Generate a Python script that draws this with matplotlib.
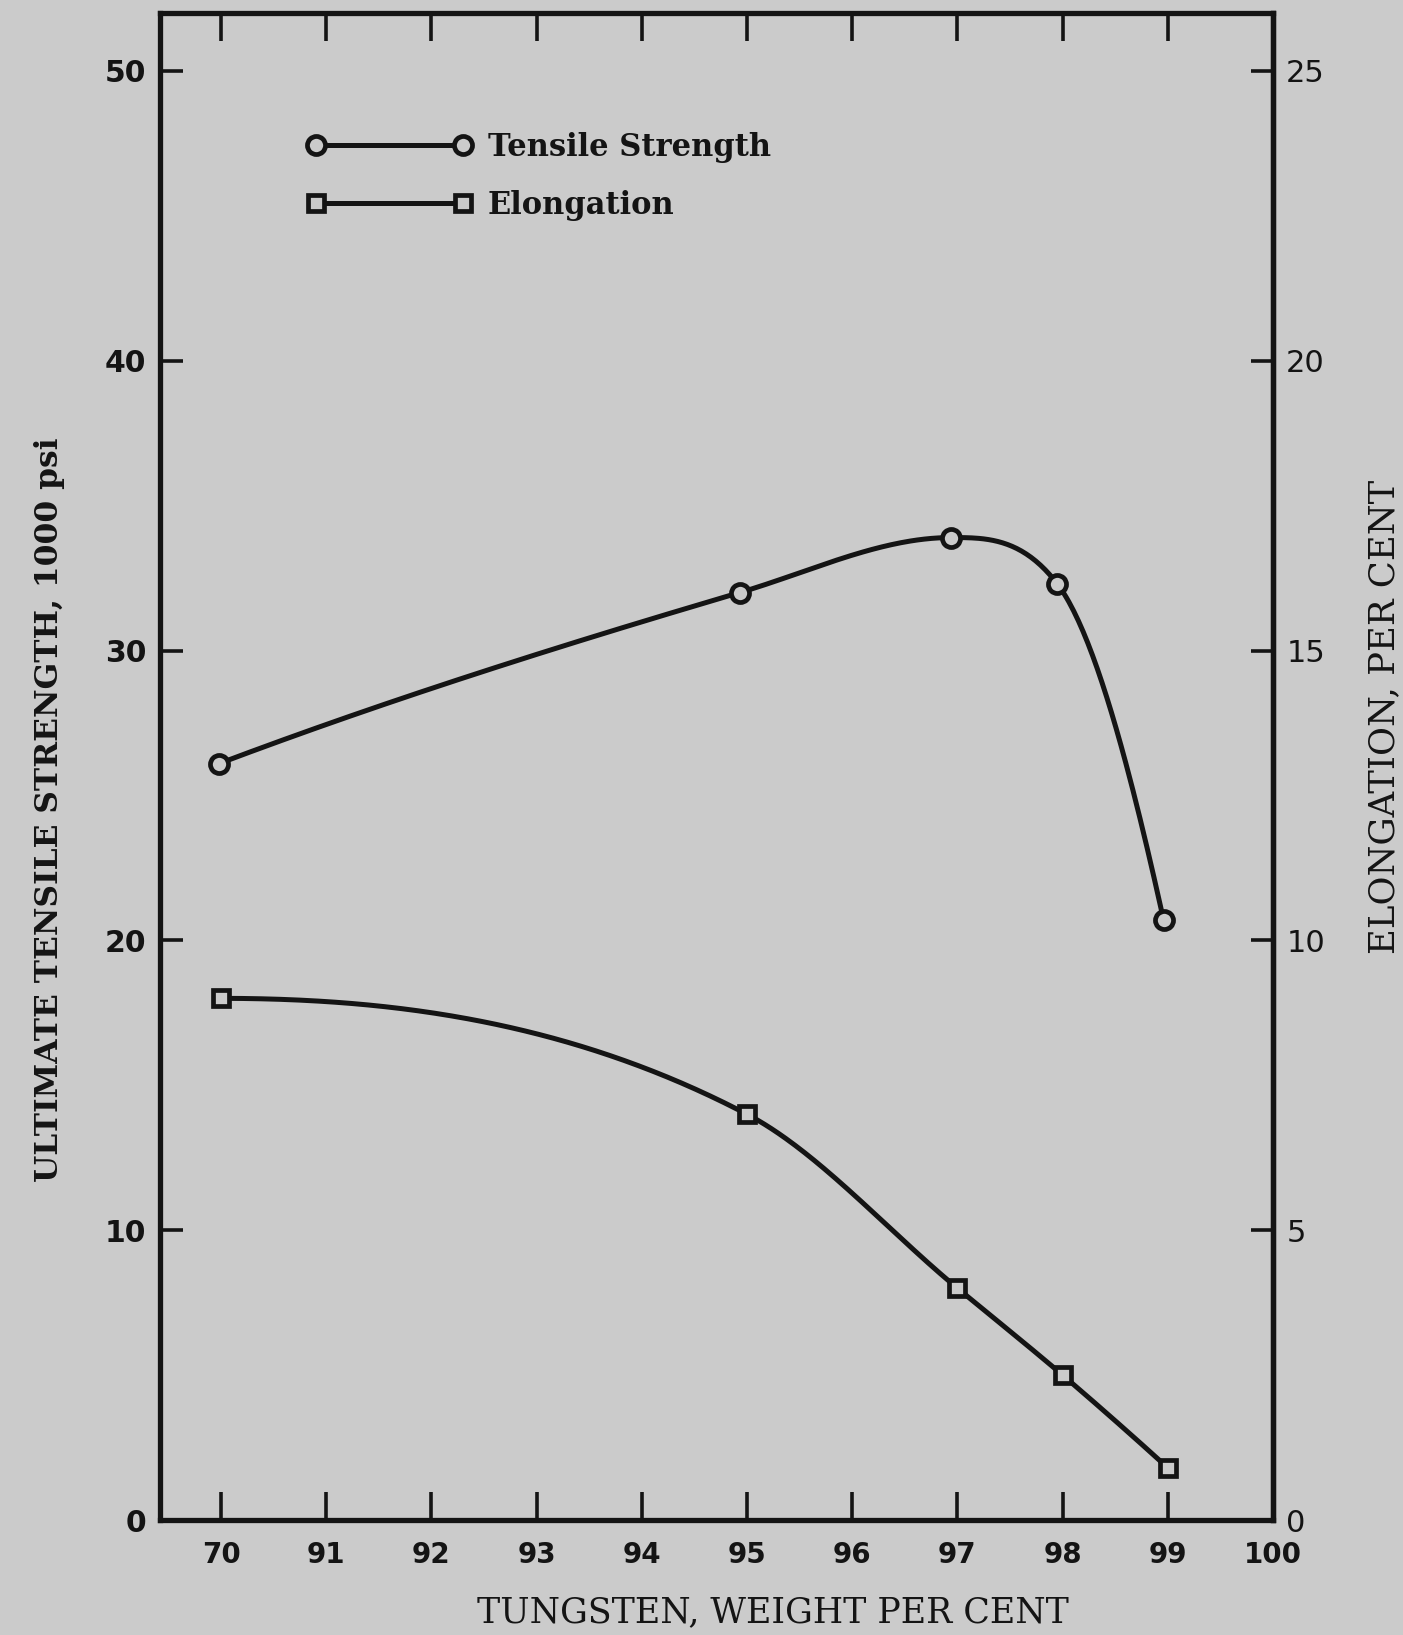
import numpy as np
import matplotlib
matplotlib.use('Agg')
import matplotlib.pyplot as plt
from matplotlib.lines import Line2D

# tungsten axis: evenly spaced positions, one label each
tungsten_labels = ['70', '91', '92', '93', '94', '95', '96', '97', '98', '99', '100']

# ultimate tensile strength, 1000 psi (left axis)
# x is the position on the tungsten axis
tensile_x = [-0.02, 4.93, 6.94, 7.95, 8.96]
tensile_y = [26.1, 32.0, 33.9, 32.3, 20.7]

# elongation, per cent (right axis)
elong_x = [0.0, 5.0, 7.0, 8.0, 9.0]
elong_y = [9.0, 7.0, 4.0, 2.5, 0.9]

left_ticks = [0, 10, 20, 30, 40, 50]
right_ticks = [0, 5, 10, 15, 20, 25]

paper = '#cbcbcb'
ink = '#141414'


def smooth(x, y, n=400):
    """Monotone cubic (Fritsch-Carlson) curve through the points, the way
    the curves were drawn by hand with a french curve."""
    x = np.asarray(x, float)
    y = np.asarray(y, float)
    h = np.diff(x)
    d = np.diff(y) / h
    m = np.zeros_like(y)
    m[1:-1] = (d[:-1] + d[1:]) / 2
    m[1:-1][d[:-1] * d[1:] <= 0] = 0
    m[0] = ((2 * h[0] + h[1]) * d[0] - h[0] * d[1]) / (h[0] + h[1])
    if np.sign(m[0]) != np.sign(d[0]):
        m[0] = 0
    m[-1] = ((2 * h[-1] + h[-2]) * d[-1] - h[-1] * d[-2]) / (h[-1] + h[-2])
    if np.sign(m[-1]) != np.sign(d[-1]):
        m[-1] = 0
    for k in range(len(d)):
        if d[k] == 0:
            m[k] = m[k + 1] = 0
            continue
        a, b = m[k] / d[k], m[k + 1] / d[k]
        s = a * a + b * b
        if s > 9:
            tau = 3 / np.sqrt(s)
            m[k] = tau * a * d[k]
            m[k + 1] = tau * b * d[k]
    xs = np.linspace(x[0], x[-1], n)
    i = np.clip(np.searchsorted(x, xs) - 1, 0, len(h) - 1)
    t = (xs - x[i]) / h[i]
    h00 = 2 * t**3 - 3 * t**2 + 1
    h10 = t**3 - 2 * t**2 + t
    h01 = -2 * t**3 + 3 * t**2
    h11 = t**3 - t**2
    ys = h00 * y[i] + h10 * h[i] * m[i] + h01 * y[i + 1] + h11 * h[i] * m[i + 1]
    return xs, ys


W, H = 1403, 1635
fig = plt.figure(figsize=(W / 100, H / 100), dpi=100, facecolor=paper)
ax = fig.add_axes([160 / W, 115 / H, 1113 / W, 1507 / H])
ax.set_facecolor(paper)
ax2 = ax.twinx()

lw = 3.6
mk = dict(mfc=paper, mec=ink, mew=3.4, linestyle='none', zorder=5)

xs, ys = smooth(tensile_x, tensile_y)
ax.plot(xs, ys, color=ink, lw=lw, solid_capstyle='round', zorder=4)
ax.plot(tensile_x, tensile_y, marker='o', ms=13, **mk)

xs, ys = smooth(elong_x, elong_y)
ax2.plot(xs, ys, color=ink, lw=lw, solid_capstyle='round', zorder=4)
ax2.plot(elong_x, elong_y, marker='s', ms=11.5, **mk)

ax.set_xlim(-0.58, 10)
ax.set_ylim(0, 52)
ax2.set_ylim(0, 26)

ax.set_xticks(range(len(tungsten_labels)), tungsten_labels,
              fontweight='bold', family='DejaVu Sans')
ax.set_yticks(left_ticks, [str(v) for v in left_ticks],
              fontweight='bold', family='DejaVu Sans')
ax2.set_yticks(right_ticks, [str(v) for v in right_ticks], family='DejaVu Sans')

ax.tick_params(axis='x', direction='in', length=20, width=2.6, top=True,
               labelsize=20, pad=15, color=ink, labelcolor=ink)
ax.tick_params(axis='y', direction='in', length=16.5, width=2.6,
               labelsize=21.5, pad=10, color=ink, labelcolor=ink)
ax2.tick_params(axis='y', direction='in', length=16, width=2.6,
                labelsize=22, pad=9.5, color=ink, labelcolor=ink)

for a in (ax, ax2):
    for sp in a.spines.values():
        sp.set_linewidth(3.8)
        sp.set_color(ink)
for side in ('left', 'top', 'bottom'):
    ax2.spines[side].set_visible(False)

ax.set_ylabel('ULTIMATE TENSILE STRENGTH, 1000 psi', family='DejaVu Serif',
              fontweight='bold', fontsize=22.5, color=ink)
ax.yaxis.set_label_coords((50 - 160) / 1113, (1520 - 810) / 1507)
ax.yaxis.label.set_verticalalignment('center')

ax.set_xlabel('TUNGSTEN, WEIGHT PER CENT', family='DejaVu Serif',
              fontsize=25, color=ink)
ax.xaxis.set_label_coords((773 - 160) / 1113, (1520 - 1612) / 1507)
ax.xaxis.label.set_verticalalignment('center')

ax2.set_ylabel('ELONGATION, PER CENT', family='DejaVu Serif',
               fontsize=25.5, color=ink)
ax2.yaxis.set_label_coords((1384 - 160) / 1113, (1520 - 717) / 1507)
ax2.yaxis.label.set_verticalalignment('center')

handles = [
    Line2D([], [], color=ink, lw=lw, marker='o', ms=13, mfc=paper, mec=ink, mew=3.4),
    Line2D([], [], color=ink, lw=lw, marker='s', ms=11.5, mfc=paper, mec=ink, mew=3.4),
]
leg = ax2.legend(handles, ['Tensile Strength', 'Elongation'], loc='upper left',
                 bbox_to_anchor=(307 / W, 1 - 132 / H), bbox_transform=fig.transFigure,
                 frameon=False, numpoints=2, handlelength=5.42, handletextpad=0.5,
                 labelspacing=0.88, borderpad=0, borderaxespad=0,
                 prop={'family': 'DejaVu Serif', 'weight': 'bold', 'size': 22})
for txt in leg.get_texts():
    txt.set_color(ink)

fig.savefig('out.png', dpi=100, facecolor=paper)
